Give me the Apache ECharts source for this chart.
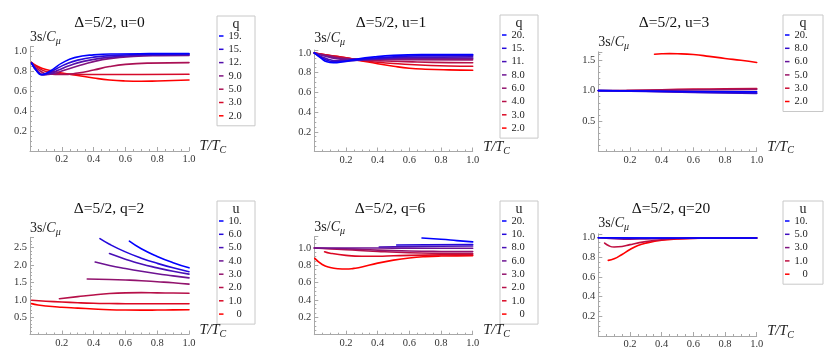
<!DOCTYPE html>
<html>
<head>
<meta charset="utf-8">
<script src="https://cdn.jsdelivr.net/npm/echarts@6/dist/echarts.min.js"></script>
<style>
  html, body { margin: 0; padding: 0; background: #fff; }
  #chart { width: 830px; height: 358px; }
</style>
</head>
<body>
<div id="chart"></div>
<script>
// titles of the six panels and the legend headers
const titles = ['Δ=5/2, u=0', 'Δ=5/2, u=1', 'Δ=5/2, u=3', 'Δ=5/2, q=2', 'Δ=5/2, q=6', 'Δ=5/2, q=20']
const legendHeads = ['q', 'q', 'q', 'u', 'u', 'u']

// legend labels, top (blue) to bottom (red)
const p1Labels = ['19.', '15.', '12.', '9.0', '5.0', '3.0', '2.0']
const p2Labels = ['20.', '15.', '11.', '8.0', '6.0', '4.0', '3.0', '2.0']
const p3Labels = ['20.', '8.0', '6.0', '5.0', '3.0', '2.0']
const p4Labels = ['10.', '6.0', '5.0', '4.0', '3.0', '2.0', '1.0', '   0']
const p5Labels = ['20.', '10.', '8.0', '6.0', '3.0', '2.0', '1.0', '   0']
const p6Labels = ['10.', '5.0', '3.0', '1.0', '   0']

// curves [T/Tc, 3s/Cmu], same order as the labels
const p1Curves = [
  [[0.01, 0.885], [0.04, 0.81], [0.07, 0.768], [0.1, 0.78], [0.15, 0.83], [0.2, 0.885], [0.28, 0.94], [0.4, 0.968], [0.55, 0.977], [0.75, 0.98], [1, 0.981]],
  [[0.01, 0.885], [0.04, 0.81], [0.075, 0.768], [0.11, 0.78], [0.17, 0.83], [0.22, 0.87], [0.3, 0.915], [0.4, 0.945], [0.55, 0.963], [0.75, 0.972], [1, 0.975]],
  [[0.01, 0.885], [0.045, 0.805], [0.08, 0.768], [0.12, 0.775], [0.18, 0.815], [0.25, 0.86], [0.33, 0.9], [0.45, 0.935], [0.6, 0.955], [0.8, 0.965], [1, 0.968]],
  [[0.01, 0.885], [0.05, 0.8], [0.09, 0.768], [0.14, 0.775], [0.2, 0.805], [0.3, 0.855], [0.4, 0.9], [0.5, 0.93], [0.65, 0.952], [0.8, 0.96], [1, 0.962]],
  [[0.01, 0.89], [0.06, 0.81], [0.12, 0.775], [0.2, 0.77], [0.3, 0.785], [0.4, 0.815], [0.5, 0.85], [0.6, 0.872], [0.75, 0.885], [1, 0.89]],
  [[0.01, 0.89], [0.05, 0.84], [0.1, 0.8], [0.2, 0.775], [0.35, 0.77], [0.5, 0.77], [0.7, 0.77], [1, 0.772]],
  [[0.01, 0.89], [0.05, 0.85], [0.1, 0.82], [0.2, 0.785], [0.3, 0.76], [0.4, 0.735], [0.5, 0.715], [0.6, 0.705], [0.7, 0.702], [0.8, 0.705], [0.9, 0.71], [1, 0.715]]
]
const p2Curves = [
  [[0, 1], [0.04, 0.95], [0.08, 0.91], [0.12, 0.9], [0.18, 0.91], [0.26, 0.935], [0.38, 0.96], [0.5, 0.975], [0.7, 0.983], [1, 0.985]],
  [[0, 1], [0.07, 0.93], [0.13, 0.91], [0.2, 0.915], [0.3, 0.935], [0.45, 0.955], [0.65, 0.97], [1, 0.975]],
  [[0, 1], [0.08, 0.94], [0.15, 0.92], [0.25, 0.925], [0.4, 0.94], [0.6, 0.955], [1, 0.96]],
  [[0, 1], [0.1, 0.955], [0.18, 0.935], [0.3, 0.935], [0.45, 0.94], [0.7, 0.945], [1, 0.945]],
  [[0, 1], [0.1, 0.965], [0.2, 0.94], [0.3, 0.935], [0.5, 0.932], [1, 0.93]],
  [[0, 1], [0.1, 0.97], [0.2, 0.945], [0.3, 0.93], [0.45, 0.918], [0.65, 0.908], [0.85, 0.902], [1, 0.9]],
  [[0, 1], [0.1, 0.975], [0.2, 0.95], [0.3, 0.925], [0.4, 0.905], [0.55, 0.888], [0.7, 0.875], [0.85, 0.867], [1, 0.865]],
  [[0, 1], [0.1, 0.975], [0.2, 0.95], [0.3, 0.92], [0.4, 0.89], [0.5, 0.865], [0.6, 0.845], [0.7, 0.835], [0.85, 0.828], [1, 0.825]]
]
const p3Curves = [
  [[0, 1], [0.3, 0.995], [0.6, 0.985], [1, 0.98]],
  [[0, 1], [0.3, 0.988], [0.6, 0.97], [1, 0.955]],
  [[0, 1], [0.3, 0.99], [0.6, 0.975], [1, 0.96]],
  [[0, 1], [0.3, 1.005], [0.6, 1.012], [1, 1.02]],
  [[0.18, 1.0], [0.4, 1.015], [0.6, 1.025], [0.8, 1.03], [1, 1.035]],
  [[0.355, 1.6], [0.4, 1.607], [0.45, 1.61], [0.5, 1.608], [0.6, 1.595], [0.7, 1.565], [0.8, 1.53], [0.9, 1.5], [1, 1.465]]
]
const p4Curves = [
  [[0.625, 2.69], [0.7, 2.47], [0.8, 2.25], [0.9, 2.07], [1, 1.92]],
  [[0.44, 2.76], [0.5, 2.6], [0.6, 2.38], [0.7, 2.2], [0.8, 2.05], [0.9, 1.92], [1, 1.81]],
  [[0.5, 2.33], [0.6, 2.17], [0.7, 2.03], [0.8, 1.92], [0.9, 1.82], [1, 1.74]],
  [[0.41, 2.09], [0.5, 1.99], [0.6, 1.9], [0.7, 1.82], [0.8, 1.75], [0.9, 1.69], [1, 1.63]],
  [[0.36, 1.6], [0.5, 1.585], [0.6, 1.57], [0.7, 1.55], [0.8, 1.52], [0.9, 1.49], [1, 1.45]],
  [[0.185, 1.03], [0.3, 1.09], [0.4, 1.14], [0.5, 1.18], [0.6, 1.2], [0.7, 1.205], [0.8, 1.2], [0.9, 1.195], [1, 1.19]],
  [[0.01, 0.985], [0.1, 0.96], [0.2, 0.935], [0.3, 0.915], [0.4, 0.9], [0.5, 0.892], [0.6, 0.887], [0.8, 0.884], [1, 0.885]],
  [[0.01, 0.89], [0.05, 0.85], [0.1, 0.82], [0.2, 0.785], [0.3, 0.76], [0.4, 0.735], [0.5, 0.715], [0.6, 0.705], [0.7, 0.702], [0.8, 0.705], [0.9, 0.71], [1, 0.715]]
]
const p5Curves = [
  [[0.68, 1.115], [0.8, 1.1], [0.9, 1.085], [1, 1.07]],
  [[0.52, 1.035], [0.7, 1.038], [1, 1.04]],
  [[0.41, 1.012], [0.6, 1.017], [0.8, 1.02], [1, 1.022]],
  [[0, 1], [0.2, 1], [0.4, 0.999], [0.6, 0.998], [0.8, 0.997], [1, 0.996]],
  [[0, 1], [0.2, 0.99], [0.4, 0.975], [0.6, 0.965], [0.8, 0.96], [1, 0.958]],
  [[0, 1], [0.2, 0.98], [0.4, 0.96], [0.6, 0.945], [0.8, 0.938], [1, 0.935]],
  [[0.065, 0.957], [0.1, 0.94], [0.2, 0.915], [0.3, 0.905], [0.4, 0.905], [0.5, 0.91], [0.6, 0.915], [0.8, 0.92], [1, 0.922]],
  [[0.003, 0.88], [0.05, 0.81], [0.1, 0.775], [0.15, 0.76], [0.2, 0.757], [0.25, 0.765], [0.3, 0.78], [0.4, 0.825], [0.5, 0.86], [0.6, 0.885], [0.7, 0.9], [0.8, 0.907], [1, 0.912]]
]
const p6Curves = [
  [[0, 1], [0.5, 0.997], [1, 0.997]],
  [[0, 1], [0.2, 0.995], [0.5, 0.995], [1, 0.996]],
  [[0, 1], [0.1, 0.99], [0.2, 0.985], [0.3, 0.988], [0.45, 0.993], [0.6, 0.996], [1, 0.997]],
  [[0.04, 0.945], [0.07, 0.915], [0.1, 0.905], [0.15, 0.91], [0.2, 0.93], [0.3, 0.96], [0.4, 0.98], [0.5, 0.99], [0.65, 0.995], [1, 0.997]],
  [[0.063, 0.77], [0.1, 0.785], [0.15, 0.83], [0.2, 0.88], [0.25, 0.92], [0.3, 0.945], [0.4, 0.975], [0.5, 0.988], [0.65, 0.995], [1, 0.997]]
]

// y axis ranges and tick steps
const yMax = [1.05, 1.03, 1.64, 2.8, 1.13, 1.04]
const yStep = [0.2, 0.2, 0.5, 0.5, 0.2, 0.2]

const labels = [p1Labels, p2Labels, p3Labels, p4Labels, p5Labels, p6Labels]
const curves = [p1Curves, p2Curves, p3Curves, p4Curves, p5Curves, p6Curves]

// layout (px): plot rects and legend boxes
const grids = [
  { left: 30, top: 46.7, width: 159, height: 104.3 },
  { left: 314.3, top: 50, width: 158.4, height: 101.5 },
  { left: 598.3, top: 51.8, width: 158.4, height: 99.5 },
  { left: 30, top: 237.3, width: 159, height: 97.2 },
  { left: 314.3, top: 236.7, width: 158.4, height: 98 },
  { left: 598.3, top: 233.8, width: 158.4, height: 102.2 }
]
const boxes = [[217, 16, 38], [500, 15, 38], [783, 15, 40], [217, 201, 38], [500, 201, 38], [783, 201, 40]]
const titlePos = [[109.5, 23], [391, 23], [674, 23], [109, 209], [390, 209], [671, 209]]

const font = '"Liberation Serif", "Times New Roman", serif'
const axisGray = '#a8a8a8'

function blend(t) {
  // blue (t=0) -> red (t=1)
  return 'rgb(' + Math.round(255 * t) + ',' + Math.round(20 * Math.sin(Math.PI * t)) + ',' + Math.round(255 * (1 - t)) + ')'
}

function tickFmt(step) {
  return function (v) {
    const k = v / step
    if (v <= 0 || Math.abs(k - Math.round(k)) > 1e-6) return ''
    return v.toFixed(1)
  }
}

const xAxes = []
const yAxes = []
const series = []
const legends = []
const graphics = []

for (let p = 0; p < 6; p++) {
  xAxes.push({
    gridIndex: p,
    type: 'value',
    min: 0,
    max: 1,
    interval: 0.2,
    axisLine: { lineStyle: { color: axisGray, width: 1 } },
    axisTick: { inside: true, length: 4, lineStyle: { color: axisGray } },
    minorTick: { show: true, splitNumber: 4, length: 2, lineStyle: { color: axisGray } },
    splitLine: { show: false },
    axisLabel: { formatter: tickFmt(0.2), fontFamily: font, fontSize: 10.5, color: '#333', margin: 3 },
    name: '{a|T/T}{c|C}',
    nameLocation: 'end',
    nameGap: 3,
    nameTextStyle: {
      padding: [0, 0, 9, 0],
      rich: {
        a: { fontFamily: font, fontSize: 14.5, fontStyle: 'italic', color: '#222', lineHeight: 18, verticalAlign: 'middle' },
        c: { fontFamily: font, fontSize: 10, fontStyle: 'italic', color: '#222', lineHeight: 10, verticalAlign: 'bottom' }
      }
    }
  })
  yAxes.push({
    gridIndex: p,
    type: 'value',
    min: 0,
    max: yMax[p],
    interval: yStep[p],
    axisLine: { lineStyle: { color: axisGray, width: 1 } },
    axisTick: { inside: true, length: 4, lineStyle: { color: axisGray } },
    minorTick: { show: true, splitNumber: yStep[p] === 0.5 ? 5 : 4, length: 2, lineStyle: { color: axisGray } },
    splitLine: { show: false },
    axisLabel: { formatter: tickFmt(yStep[p]), fontFamily: font, fontSize: 10.5, color: '#333', margin: 3 },
    name: '{a|3s/}{b|C}{c|μ}',
    nameLocation: 'end',
    nameGap: 0,
    nameTextStyle: {
      align: 'left',
      verticalAlign: 'bottom',
      rich: {
        a: { fontFamily: font, fontSize: 14, color: '#222', lineHeight: 18, verticalAlign: 'middle' },
        b: { fontFamily: font, fontSize: 14, fontStyle: 'italic', color: '#222', lineHeight: 18, verticalAlign: 'middle' },
        c: { fontFamily: font, fontSize: 10, fontStyle: 'italic', color: '#222', lineHeight: 10, verticalAlign: 'bottom' }
      }
    }
  })

  const n = labels[p].length
  // red drawn first, blue on top
  for (let i = n - 1; i >= 0; i--) {
    const color = blend(n > 1 ? i / (n - 1) : 0)
    series.push({
      type: 'line',
      name: p + '|' + labels[p][i],
      xAxisIndex: p,
      yAxisIndex: p,
      data: curves[p][i],
      symbol: 'none',
      smooth: 0.5,
      color: color,
      lineStyle: { width: 1.6, color: color, cap: 'round', join: 'round' },
      silent: true
    })
  }

  const b = boxes[p]
  legends.push({
    orient: 'vertical',
    left: b[0] + 2,
    top: b[1] + 13.35,
    padding: 0,
    itemGap: 0,
    itemWidth: 4.5,
    itemHeight: 1.5,
    icon: 'rect',
    selectedMode: false,
    data: labels[p].map(l => p + '|' + l),
    formatter: name => name.split('|')[1],
    textStyle: { fontFamily: font, fontSize: 10.5, color: '#222', lineHeight: 13.3 }
  })

  const h = 20 + (n - 1) * 13.3 + 10
  graphics.push({
    type: 'rect',
    shape: { x: b[0], y: b[1], width: b[2], height: h },
    style: { fill: '#fff', stroke: '#c8c8c8', lineWidth: 1 },
    z: 0
  })
  graphics.push({
    type: 'text',
    x: b[0] + b[2] / 2,
    y: b[1] + 8,
    style: { text: legendHeads[p], font: '14px ' + font, fill: '#222', textAlign: 'center', textVerticalAlign: 'middle' },
    z: 1
  })
  graphics.push({
    type: 'text',
    x: titlePos[p][0],
    y: titlePos[p][1],
    style: { text: titles[p], font: '15.5px ' + font, fill: '#111', textAlign: 'center', textVerticalAlign: 'middle' },
    z: 1
  })
}

const myChart = echarts.init(document.getElementById('chart'), null, { renderer: 'canvas' })
myChart.setOption({
  backgroundColor: '#fff',
  animation: false,
  grid: grids,
  xAxis: xAxes,
  yAxis: yAxes,
  legend: legends,
  graphic: graphics,
  series: series
})
</script>
</body>
</html>
